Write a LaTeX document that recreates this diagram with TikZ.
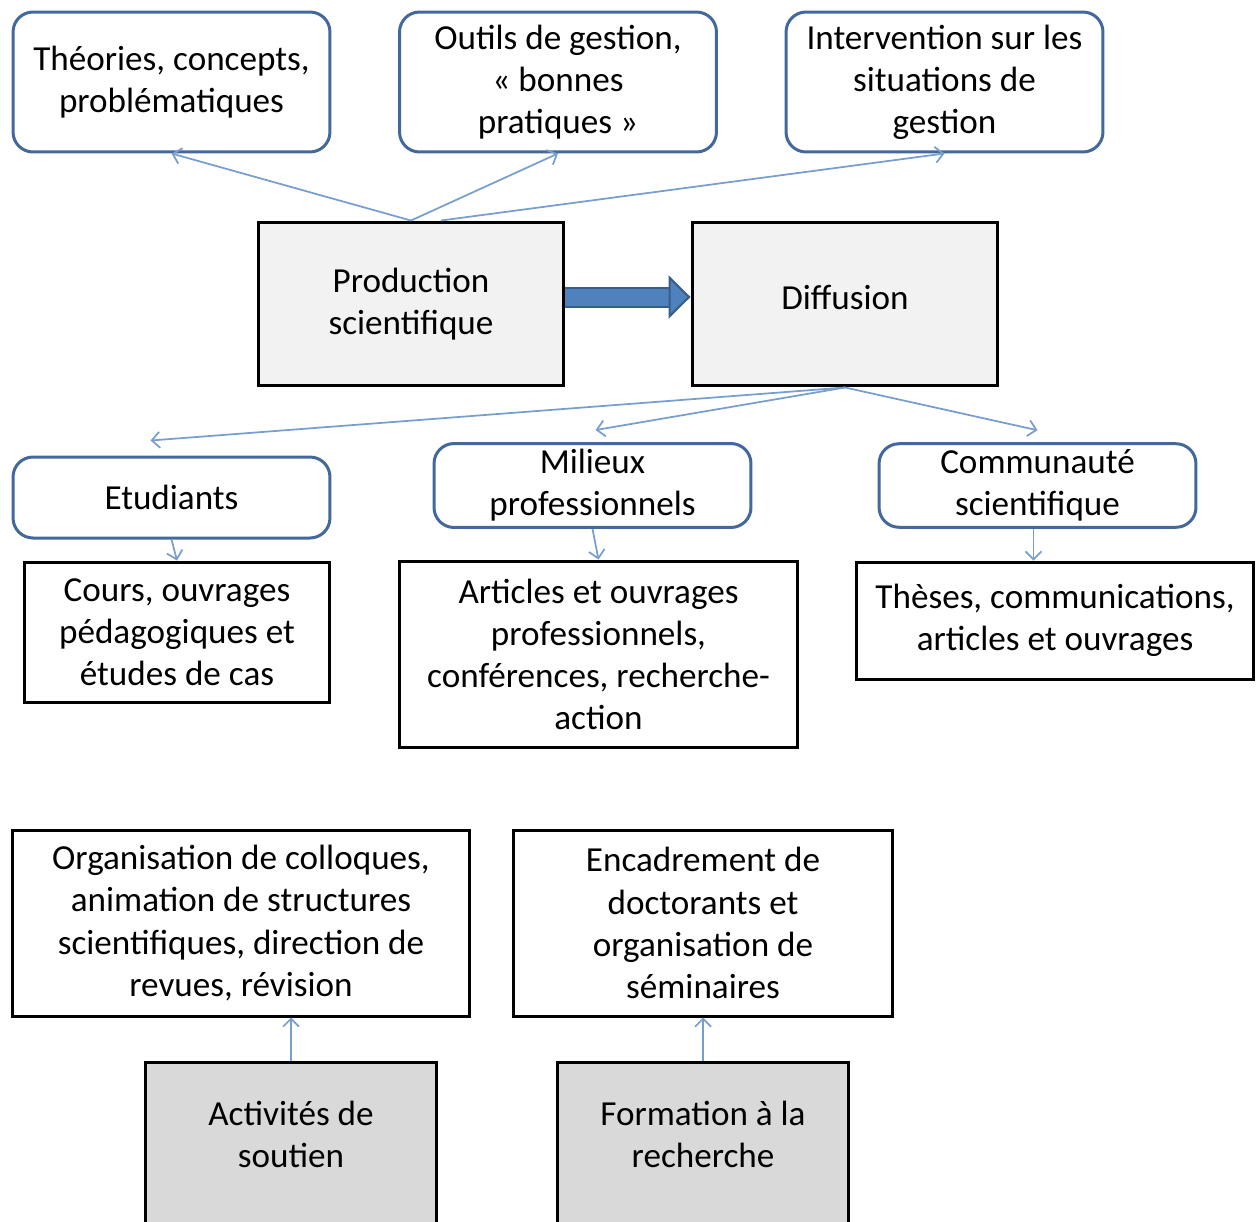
\documentclass[tikz,border=0pt]{standalone}
\usepackage{fontspec}
\setmainfont{Carlito}
\usepackage{tikz}
\usepackage{xcolor}
\usetikzlibrary{arrows.meta,calc,positioning}
\definecolor{boxblue}{RGB}{66,104,156}
\definecolor{linkblue}{RGB}{120,158,208}
\definecolor{arrowfill}{RGB}{79,129,189}
\definecolor{arrowline}{RGB}{56,93,138}
\tikzset{%
	txt/.style      = {font=\fontsize{20}{24}\selectfont, align=center, text=black},
	theme/.style    = {txt, draw=boxblue, line width=0.06cm, rectangle, rounded corners=0.4cm, minimum width=6.34cm},
	stage/.style    = {txt, draw=black, line width=0.06cm, rectangle, fill=black!5, minimum width=6.12cm, minimum height=3.28cm},
	output/.style   = {txt, draw=black, line width=0.06cm, rectangle, fill=white},
	support/.style  = {txt, draw=black, line width=0.06cm, rectangle, fill=black!15, minimum width=5.84cm, minimum height=3.28cm, text depth=0.4cm},
	arrow/.style    = {draw=linkblue, line width=0.035cm, -{Straight Barb[length=0.16cm,width=0.32cm]}},
	bigarrow/.style = {draw=arrowfill, line width=0.34cm, -{Triangle[length=0.44cm,width=0.86cm,line width=1.2pt,color=arrowline,fill=arrowfill]},
	                   preaction={draw=arrowline, line width=0.42cm, -, shorten >=0.42cm}},
}
\begin{document}
\begin{tikzpicture}[x=0.02cm,y=-0.02cm]
	\useasboundingbox (0,0) rectangle (1256,1221);
	% top row
	\node[theme, minimum height=2.8cm] (theories) at (171.5,82) {Théories, concepts,\\problématiques};
	\node[theme, minimum height=2.8cm] (outils) at (558,82) {Outils de gestion,\\« bonnes\\pratiques »};
	\node[theme, minimum height=2.8cm] (interv) at (944.5,82) {Intervention sur les\\situations de\\gestion};
	% production and diffusion
	\node[stage] (prod) at (411,304) {Production\\scientifique};
	\node[stage, text depth=0.28cm] (diff) at (845,304) {Diffusion};
	\draw[bigarrow] ([yshift=0.14cm]prod.east) -- ([yshift=0.14cm]diff.west);
	\draw[arrow] (prod.north) -- (theories.south);
	\draw[arrow] (prod.north) -- (outils.south);
	\draw[arrow] ([xshift=0.6cm]prod.north) -- (interv.south);
	% audiences
	\node[theme, minimum height=1.62cm] (etud) at (171.5,497.5) {Etudiants};
	\node[theme, minimum height=1.66cm] (milieux) at (592.5,485.5) {Milieux\\professionnels};
	\node[theme, minimum height=1.66cm] (commu) at (1037.5,485.5) {Communauté\\scientifique};
	\draw[arrow] (diff.south) -- ([xshift=-0.42cm,yshift=0.3cm]etud.north);
	\draw[arrow] (diff.south) -- ([xshift=0.06cm,yshift=0.24cm]milieux.north);
	\draw[arrow] (diff.south) -- ([yshift=0.24cm]commu.north);
	% outputs
	\node[output, minimum width=6.12cm, minimum height=2.8cm] (cours) at (177,632) {Cours, ouvrages\\pédagogiques et\\études de cas};
	\node[output, minimum width=7.98cm, minimum height=3.74cm] (articles) at (598.5,654.5) {Articles et ouvrages\\professionnels,\\conférences, recherche-\\action};
	\node[output, minimum width=7.96cm, minimum height=2.34cm] (theses) at (1055,620.5) {Thèses, communications,\\articles et ouvrages};
	\draw[arrow] (etud.south) -- (cours.north);
	\draw[arrow] (milieux.south) -- (articles.north);
	\draw[arrow] ([xshift=-0.08cm]commu.south) -- ([xshift=-0.08cm]commu.south |- theses.north);
	% support and research training
	\node[output, minimum width=9.16cm, minimum height=3.72cm] (orga) at (241,923) {Organisation de colloques,\\animation de structures\\scientifiques, direction de\\revues, révision};
	\node[output, minimum width=7.6cm, minimum height=3.72cm] (encadr) at (703,923) {Encadrement de\\doctorants et\\organisation de\\séminaires};
	\node[support] (soutien) at (291,1144) {Activités de\\soutien};
	\node[support] (formation) at (703,1144) {Formation à la\\recherche};
	\draw[arrow] (soutien.north) -- (soutien.north |- orga.south);
	\draw[arrow] (formation.north) -- (encadr.south);
\end{tikzpicture}
\end{document}
